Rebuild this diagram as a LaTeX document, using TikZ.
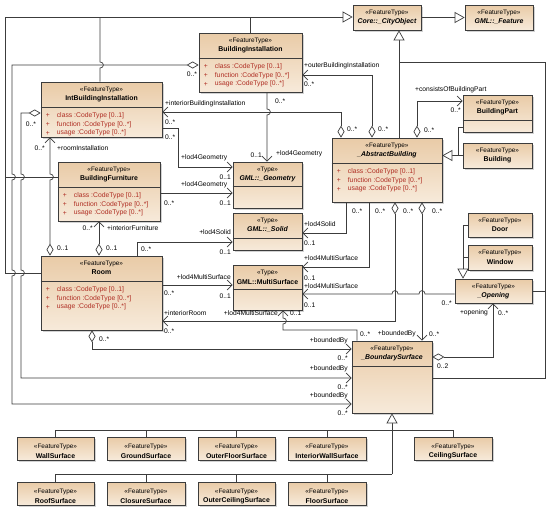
\documentclass[tikz,border=0pt]{standalone}
\usepackage{fontspec}
\setmainfont{Liberation Sans}
\usetikzlibrary{arrows.meta,shadows,calc}

\definecolor{cajaArriba}{RGB}{233,203,167}
\definecolor{cajaAbajo}{RGB}{247,234,218}
\definecolor{atributo}{RGB}{175,45,35}
\definecolor{linea}{RGB}{60,60,60}

\tikzset{
  clase/.style={draw=linea, line width=0.7pt, top color=cajaArriba, bottom color=cajaAbajo,
    inner sep=0pt, drop shadow={shadow xshift=1.5pt, shadow yshift=-1.5pt, opacity=0.35}},
  estereo/.style={font=\fontsize{6.4}{7}\selectfont, inner sep=0pt},
  titulo/.style={font=\fontsize{6.9}{8}\selectfont\bfseries, inner sep=0pt},
  attr/.style={font=\fontsize{6.8}{7}\selectfont, text=atributo, anchor=west, inner sep=0pt},
  rol/.style={font=\fontsize{6.7}{7}\selectfont, inner sep=0pt},
  conector/.style={draw=linea, line width=0.7pt},
  herencia/.style={conector, -{Triangle[fill=white, length=10pt, width=11pt]}},
  asoc/.style={conector, -{Straight Barb[length=5pt, width=10pt]}},
  agreg/.style={conector, {Diamond[fill=white, length=12pt, width=7pt]}-{Straight Barb[length=5pt, width=10pt]}},
}

% caja de clase: nombre, x1, y1, x2, y2, estereotipo, titulo
\newcommand{\cajaclase}[8][0]{%
  \node[clase, minimum width={(#5-#3)*1pt}, minimum height={(#6-#4)*1pt}] (#2) at ({(#3+#5)/2},{(#4+#6)/2}) {};
  \node[estereo] (#2-e) at ($(#2.north)+(0,8.5+#1)$) {«#7»};
  \node[titulo] (#2-t) at ($(#2.north)+(0,17+#1)$) {#8};}
\newcommand{\divisor}[2]{\draw[conector] ($(#1.north west)+(0,#2)$) -- ($(#1.north east)+(0,#2)$);}
\newcommand{\atributos}[1]{%
  \foreach \n/\m [count=\i from 0] in {class/0..1, function/0..*, usage/0..*}{
    \node[attr] (#1-m\i) at ($(#1.north west)+(5,34+8.7*\i)$) {+};
    \node[attr] (#1-a\i) at ($(#1.north west)+(16,34+8.7*\i)$) {\n\ :CodeType [\m]};}}

\begin{document}
\begin{tikzpicture}[x=1pt, y=-1pt]
  \useasboundingbox (0,0) rectangle (550,514);
  \fill[white] (0,0) rectangle (550,514);

  % Clases de la parte superior
  \cajaclase{cobj}{353}{5}{421}{30}{FeatureType}{\itshape Core::\_CityObject}
  \cajaclase{feat}{465}{5}{533}{30}{FeatureType}{\itshape GML::\_Feature}
  \cajaclase{binst}{199}{33}{302}{92}{FeatureType}{BuildingInstallation}
  \cajaclase{ibi}{41}{82}{162}{137}{FeatureType}{IntBuildingInstallation}
  \cajaclase{bf}{58}{162}{160}{221}{FeatureType}{BuildingFurniture}
  \cajaclase{rm}{41}{256}{162}{330}{FeatureType}{Room}
  \cajaclase{abld}{332}{138}{442}{202}{FeatureType}{\itshape \_AbstractBuilding}
  \cajaclase{bpart}{463}{95}{532}{132}{FeatureType}{BuildingPart}
  \cajaclase{bldg}{463}{143}{532}{168}{FeatureType}{Building}
  \cajaclase{door}{468}{213}{532}{237}{FeatureType}{Door}
  \cajaclase{win}{468}{245}{532}{270}{FeatureType}{Window}
  \cajaclase{op}{455}{279}{532}{303}{FeatureType}{\itshape \_Opening}
  \cajaclase{bs}{352}{341}{432}{413}{FeatureType}{\itshape \_BoundarySurface}

  % Tipos de geometria
  \cajaclase{geom}{233}{162}{302}{208}{Type}{\itshape GML::\_Geometry}
  \cajaclase{sol}{233}{213}{302}{250}{Type}{\itshape GML::\_Solid}
  \cajaclase{ms}{233}{265}{302}{310}{Type}{GML::MultiSurface}

  % Superficies
  \cajaclase[2]{wall}{17}{437}{94}{460}{FeatureType}{WallSurface}
  \cajaclase[2]{ground}{107}{437}{185}{460}{FeatureType}{GroundSurface}
  \cajaclase[2]{ofloor}{198}{437}{275}{460}{FeatureType}{OuterFloorSurface}
  \cajaclase[2]{iwall}{288}{437}{366}{460}{FeatureType}{InteriorWallSurface}
  \cajaclase[2]{ceil}{414}{437}{492}{460}{FeatureType}{CeilingSurface}
  \cajaclase[2]{roof}{17}{482}{94}{505}{FeatureType}{RoofSurface}
  \cajaclase[2]{closure}{107}{482}{185}{505}{FeatureType}{ClosureSurface}
  \cajaclase[2]{oceil}{198}{482}{275}{505}{FeatureType}{OuterCeilingSurface}
  \cajaclase[2]{floor}{288}{482}{366}{505}{FeatureType}{FloorSurface}

  % Compartimentos y atributos
  \divisor{binst}{26} \atributos{binst}
  \divisor{ibi}{26} \atributos{ibi}
  \divisor{bf}{26} \atributos{bf}
  \divisor{rm}{26} \atributos{rm}
  \divisor{abld}{26} \atributos{abld}
  \divisor{bpart}{26}
  \divisor{bs}{26}
  \divisor{geom}{25}
  \divisor{sol}{26}
  \divisor{ms}{25}

  % Herencia
  \draw[herencia] (rm.west |- 0,273) -- (5,273) -- (5,17) -- (cobj.west |- 0,17);
  \draw[conector] (bf.west |- 0,177) -- (5,177);
  \draw[conector] (ibi.north -| 100,0) -- (100,68) .. controls +(4.5,0) and +(4.5,0) .. (100,62) -- (100,17);
  \draw[conector] (binst.north -| 250,0) -- (250,17);
  \draw[herencia] (cobj.east) -- (feat.west);
  \draw[herencia] (abld.north -| 399,0) -- (cobj.south -| 399,0);
  \draw[conector] (bs.east |- 0,378) -- (545,378) -- (545,62) -- (399,62);
  \draw[conector] (op.east) -- (op.east -| 545,0);
  \draw[herencia] (bldg.west) -- (bldg.west -| abld.east);
  \draw[conector] (bpart.west |- 0,127) -| (bldg.west -| 458,0);
  \draw[herencia] (door.west) -- (door.west -| 463,0) -- (op.north -| 463,0);
  \draw[conector] (win.west) -- (win.west -| 463,0);

  % Arbol de superficies
  \draw[herencia] (bs.south |- 0,474) -- (bs.south);
  \draw[conector] (wall.north) -- (wall.north |- 0,430) -- (ceil.north |- 0,430) -- (ceil.north);
  \draw[conector] (ground.north) -- (ground.north |- 0,430);
  \draw[conector] (ofloor.north) -- (ofloor.north |- 0,430);
  \draw[conector] (iwall.north) -- (iwall.north |- 0,430);
  \draw[conector] (roof.north) -- (roof.north |- 0,474) -- (bs.south |- 0,474);
  \draw[conector] (closure.north) -- (closure.north |- 0,474);
  \draw[conector] (oceil.north) -- (oceil.north |- 0,474);
  \draw[conector] (floor.north) -- (floor.north |- 0,474);

  % Asociaciones de _AbstractBuilding
  \draw[agreg] (abld.north -| 341,0) -- (341,112) -- (ibi.east |- 0,112);
  \draw[agreg] (abld.north -| 372,0) -- (372,75) -- (binst.east |- 0,75);
  \draw[agreg] (abld.north -| 417,0) -- (417,101) -- (bpart.west |- 0,101);
  \draw[asoc] (abld.south -| 346,0) -- (346,233) -- (sol.east |- 0,233);
  \draw[asoc] (abld.south -| 369,0) -- (369,267) -- (ms.east |- 0,267);
  \draw[agreg] (abld.south -| 395,0) -- (395,321) -- (rm.east |- 0,321);
  \draw[agreg] (abld.south -| 422,0) -- (bs.north -| 422,0);

  % Geometrias lod4
  \draw[asoc] (binst.south -| 267,0) -- (267,109) .. controls +(4.5,0) and +(4.5,0) .. (267,115) -- (geom.north -| 267,0);
  \draw[asoc] (ibi.east |- 0,128) -- (178,128) -- (178,167) -- (geom.west |- 0,167);
  \draw[asoc] (bf.east |- 0,193) -- (geom.west |- 0,193);
  \draw[asoc] (rm.north -| 137,0) -- (137,242) -- (sol.west |- 0,242);
  \draw[asoc] (rm.east |- 0,285) -- (ms.west |- 0,285);
  \draw[asoc] (op.west |- 0,294) -- (425,294) .. controls +(0,-4.5) and +(0,-4.5) .. (419,294)
    -- (398,294) .. controls +(0,-4.5) and +(0,-4.5) .. (392,294) -- (ms.east |- 0,294);
  \draw[asoc] (bs.north -| 357,0) -- (357,330) -- (283,330) -- (283,324)
    .. controls +(4.5,0) and +(4.5,0) .. (283,318) -- (ms.south -| 283,0);

  % boundedBy, habitaciones y aberturas
  \draw[agreg] (rm.south -| 92,0) -- (92,349) -- (bs.west |- 0,349);
  \draw[agreg] (ibi.west |- 0,113) -- (21,113) -- (21,174) .. controls +(4.5,0) and +(4.5,0) .. (21,180)
    -- (21,270) .. controls +(4.5,0) and +(4.5,0) .. (21,276) -- (21,378) -- (bs.west |- 0,378);
  \draw[agreg] (binst.west |- 0,65) -- (12,65) -- (12,174) .. controls +(4.5,0) and +(4.5,0) .. (12,180)
    -- (12,270) .. controls +(4.5,0) and +(4.5,0) .. (12,276) -- (12,404) -- (bs.west |- 0,404);
  \draw[agreg] (rm.north -| 50,0) -- (50,180) .. controls +(4.5,0) and +(4.5,0) .. (50,174) -- (ibi.south -| 50,0);
  \draw[agreg] (rm.north -| 99,0) -- (bf.south -| 99,0);
  \draw[agreg] (bs.east |- 0,357) -- (493,357) -- (op.south -| 493,0);

  % Roles y multiplicidades (arriba)
  \node[rol] (m1) at (192,74) {0..*};
  \node[rol] (m2) at (31,124) {0..*};
  \node[rol, anchor=west] (m3) at (165,104) {+interiorBuildingInstallation};
  \node[rol, anchor=west] (m4) at (165,122) {0..*};
  \node[rol, anchor=west] (m5) at (165,137) {0..*};
  \node[rol, anchor=west] (m6) at (304,66) {+outerBuildingInstallation};
  \node[rol, anchor=west] (m7) at (304,84) {0..*};
  \node[rol, anchor=west] (m8) at (275,101) {0..*};
  \node[rol, anchor=west] (m9) at (347,129) {0..*};
  \node[rol, anchor=west] (m10) at (378,129) {0..*};
  \node[rol, anchor=west] (m11) at (424,130) {0..*};
  \node[rol, anchor=west] (m12) at (415,90) {+consistsOfBuildingPart};
  \node[rol, anchor=east] (m13) at (461,110) {0..*};

  % Roles y multiplicidades (geometrias)
  \node[rol, anchor=east] (m14) at (262,155) {0..1};
  \node[rol, anchor=west] (m15) at (276,154) {+lod4Geometry};
  \node[rol, anchor=west] (m16) at (181,158) {+lod4Geometry};
  \node[rol, anchor=east] (m17) at (231,177) {0..1};
  \node[rol, anchor=west] (m18) at (181,185) {+lod4Geometry};
  \node[rol, anchor=west] (m19) at (164,203) {0..*};
  \node[rol, anchor=east] (m20) at (231,203) {0..1};
  \node[rol, anchor=east] (m21) at (231,232) {+lod4Solid};
  \node[rol, anchor=east] (m22) at (231,252) {0..1};
  \node[rol, anchor=west] (m23) at (141,249) {0..*};
  \node[rol, anchor=west] (m24) at (304,224) {+lod4Solid};
  \node[rol, anchor=west] (m25) at (304,243) {0..1};
  \node[rol, anchor=west] (m26) at (352,211) {0..*};
  \node[rol, anchor=east] (m27) at (231,277) {+lod4MultiSurface};
  \node[rol, anchor=west] (m28) at (164,293) {0..*};
  \node[rol, anchor=east] (m29) at (231,296) {0..1};
  \node[rol, anchor=west] (m30) at (304,258) {+lod4MultiSurface};
  \node[rol, anchor=west] (m31) at (304,278) {0..1};
  \node[rol, anchor=west] (m32) at (375,211) {0..*};
  \node[rol, anchor=west] (m33) at (304,286) {+lod4MultiSurface};
  \node[rol, anchor=west] (m34) at (304,305) {0..1};
  \node[rol, anchor=east] (m35) at (452,303) {0..*};
  \node[rol, anchor=east] (m36) at (278,313) {+lod4MultiSurface};
  \node[rol, anchor=west] (m37) at (290,313) {0..1};
  \node[rol, anchor=west] (m38) at (360,334) {0..*};

  % Roles y multiplicidades (habitaciones y superficies)
  \node[rol, anchor=west] (m39) at (164,313) {+interiorRoom};
  \node[rol, anchor=west] (m40) at (164,331) {0..*};
  \node[rol, anchor=west] (m41) at (403,211) {0..*};
  \node[rol, anchor=east] (m42) at (416,334) {+boundedBy};
  \node[rol, anchor=west] (m43) at (429,334) {0..*};
  \node[rol, anchor=west] (m44) at (432,211) {0..*};
  \node[rol, anchor=west] (m45) at (99,339) {0..*};
  \node[rol, anchor=east] (m46) at (348,341) {+boundedBy};
  \node[rol, anchor=east] (m47) at (348,358) {0..*};
  \node[rol, anchor=east] (m48) at (348,369) {+boundedBy};
  \node[rol, anchor=east] (m49) at (348,387) {0..*};
  \node[rol, anchor=east] (m50) at (348,396) {+boundedBy};
  \node[rol, anchor=east] (m51) at (348,413) {0..*};
  \node[rol, anchor=west] (m52) at (57,248) {0..1};
  \node[rol, anchor=east] (m53) at (45,148) {0..*};
  \node[rol, anchor=west] (m54) at (57,148) {+roomInstallation};
  \node[rol, anchor=west] (m55) at (106,248) {0..1};
  \node[rol, anchor=east] (m56) at (93,228) {0..*};
  \node[rol, anchor=west] (m57) at (107,228) {+interiorFurniture};
  \node[rol, anchor=west] (m58) at (437,366) {0..2};
  \node[rol, anchor=east] (m59) at (488,313) {+opening};
  \node[rol, anchor=west] (m60) at (498,313) {0..*};
\end{tikzpicture}
\end{document}
